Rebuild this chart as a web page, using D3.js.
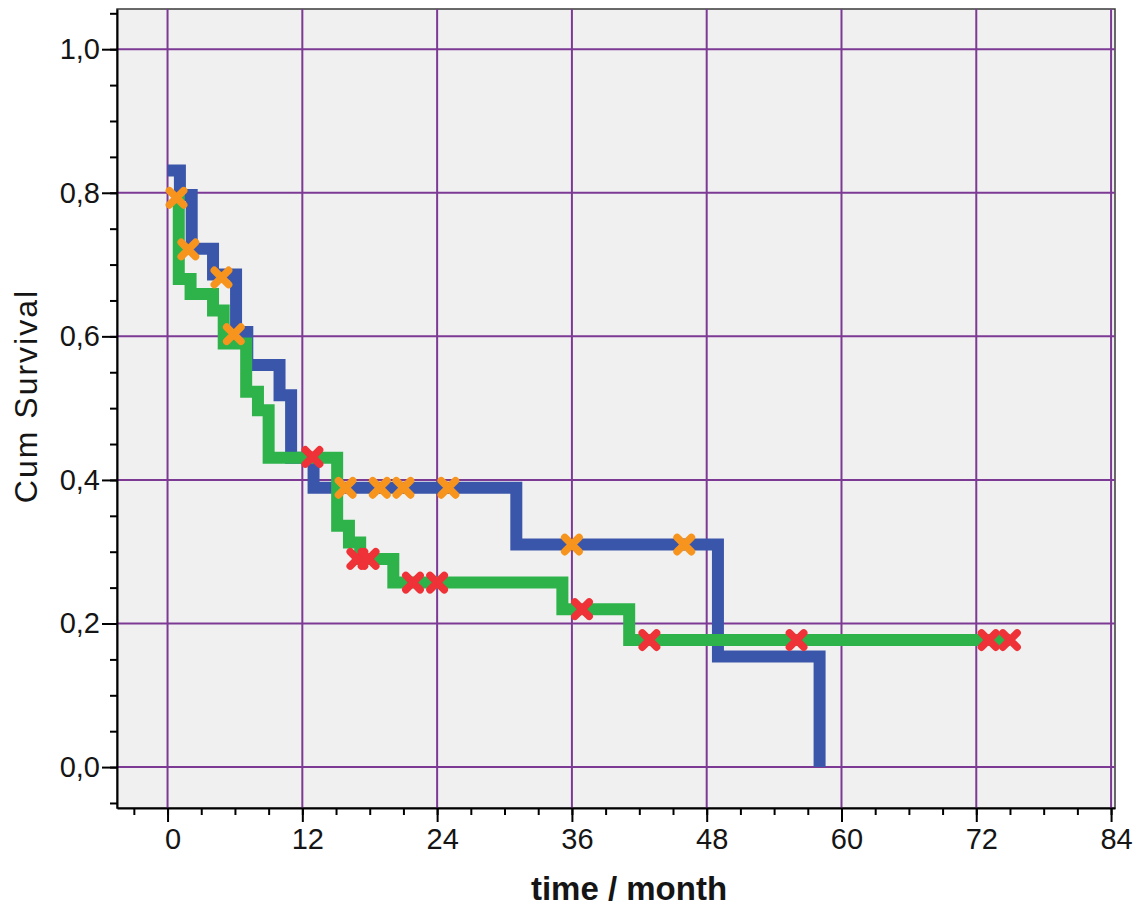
<!DOCTYPE html>
<html>
<head>
<meta charset="utf-8">
<script src="https://cdn.jsdelivr.net/npm/d3@7"></script>
<style>
  body { margin: 0; background: #ffffff; }
  .tick text { font-family: "Liberation Sans", Arial, sans-serif; fill: #151515; }
  .label { font-family: "Liberation Sans", Arial, sans-serif; fill: #151515; }
</style>
</head>
<body>
<div id="kmPlot"></div>
<script>

// Kaplan-Meier steps
// each level holds from its time up to the next time
var blueTimes = [0, 1.1, 2.15, 4.05, 6.1, 7.1, 9.97, 11.0, 13.0, 31.05, 49.0, 58.05];
var blueSurv  = [0.831, 0.797, 0.722, 0.686, 0.606, 0.560, 0.518, 0.431, 0.389, 0.310, 0.154, 0.0];

var greenTimes = [0.4, 1.0, 2.05, 4.05, 5.0, 7.0, 8.05, 9.0, 15.1, 16.15, 17.15, 20.1, 35.15, 41.1, 75.0];
var greenSurv  = [0.79, 0.680, 0.659, 0.636, 0.590, 0.523, 0.497, 0.431, 0.336, 0.313, 0.290, 0.257, 0.220, 0.177, 0.177];

// censored cases
var blueCensTimes = [0.8, 1.85, 4.8, 5.9, 15.85, 18.9, 21.0, 25.0, 36.0, 46.0];
var blueCensSurv  = [0.793, 0.721, 0.682, 0.603, 0.389, 0.389, 0.389, 0.389, 0.310, 0.310];

var greenCensTimes = [12.9, 16.9, 17.9, 21.85, 24.0, 36.9, 42.9, 56.0, 73.1, 75.0];
var greenCensSurv  = [0.432, 0.290, 0.290, 0.257, 0.257, 0.220, 0.177, 0.177, 0.177, 0.177];

// ticks
var xMajor = [0, 12, 24, 36, 48, 60, 72, 84];
var xMinor = d3.range(-3, 85, 3);
var yMajor = [0, 0.2, 0.4, 0.6, 0.8, 1.0];
var yMinor = d3.range(-0.05, 1.06, 0.05);

var width = 1143, height = 906;
var plot = {left: 117, right: 1115, top: 9, bottom: 808};

var svg = d3.select("#kmPlot")
  .append("svg")
    .attr("width", width)
    .attr("height", height);

var x = d3.scaleLinear()
    .domain([-4.5, 84.35])
    .range([plot.left, plot.right]);

var y = d3.scaleLinear()
    .domain([-0.057, 1.056])
    .range([plot.bottom, plot.top]);

// plot background
svg.append("rect")
    .attr("x", plot.left)
    .attr("y", plot.top)
    .attr("width", plot.right - plot.left)
    .attr("height", plot.bottom - plot.top)
    .style("fill", "#f0f0f0")
    .style("stroke", "#3a3a3a")
    .style("stroke-width", 1.5);

// grid
var grid = svg.append("g");
grid.selectAll("line.v")
    .data(xMajor)
    .enter()
    .append("line")
    .attr("x1", function(d){ return x(d); })
    .attr("x2", function(d){ return x(d); })
    .attr("y1", plot.top)
    .attr("y2", plot.bottom)
    .style("stroke", "#7d3a94")
    .style("stroke-width", 2);
grid.selectAll("line.h")
    .data(yMajor)
    .enter()
    .append("line")
    .attr("x1", plot.left)
    .attr("x2", plot.right)
    .attr("y1", function(d){ return y(d); })
    .attr("y2", function(d){ return y(d); })
    .style("stroke", "#7d3a94")
    .style("stroke-width", 2);

// axes
var comma = function(d){ return d3.format(".1f")(d).replace(".", ","); };

svg.append("g")
    .attr("transform", "translate(" + plot.left + ",0)")
    .call(d3.axisLeft(y).tickValues(yMinor).tickSize(7).tickSizeOuter(0).tickFormat(""))
    .style("stroke-width", 2);
svg.append("g")
    .attr("transform", "translate(" + plot.left + ",0)")
    .call(d3.axisLeft(y).tickValues(yMajor).tickSize(15).tickSizeOuter(0).tickPadding(2).tickFormat(comma))
    .style("font-size", "29px")
    .call(function(g){ g.select(".domain").remove(); })
    .selectAll("line").style("stroke-width", 2);

svg.append("g")
    .attr("transform", "translate(0," + plot.bottom + ")")
    .call(d3.axisBottom(x).tickValues(xMinor).tickSize(7).tickSizeOuter(0).tickFormat(""))
    .style("stroke-width", 2);
var xAxis = svg.append("g")
    .attr("transform", "translate(0," + plot.bottom + ")")
    .call(d3.axisBottom(x).tickValues(xMajor).tickSize(14).tickSizeOuter(0).tickPadding(6))
    .style("font-size", "29px")
    .call(function(g){ g.select(".domain").remove(); });
xAxis.selectAll("line").style("stroke-width", 2);
xAxis.selectAll("text").attr("dx", 5);

// survival curves
var line = d3.line()
    .x(function(d){ return x(d[0]); })
    .y(function(d){ return y(d[1]); })
    .curve(d3.curveStepAfter);

var bluePts = blueTimes.map(function(t, i){ return [t, blueSurv[i]]; });
var greenPts = greenTimes.map(function(t, i){ return [t, greenSurv[i]]; });

svg.append("path")
    .datum(bluePts)
    .attr("d", line)
    .style("fill", "none")
    .style("stroke", "#3a56aa")
    .style("stroke-width", 12);

svg.append("path")
    .datum(greenPts)
    .attr("d", line)
    .style("fill", "none")
    .style("stroke", "#2db34a")
    .style("stroke-width", 12);

// censor marks
var cross = d3.symbol().type(d3.symbolTimes).size(135);

svg.append("g")
    .selectAll("path")
    .data(blueCensTimes)
    .enter()
    .append("path")
    .attr("d", cross)
    .attr("transform", function(d, i){ return "translate(" + x(d) + "," + y(blueCensSurv[i]) + ")"; })
    .style("fill", "none")
    .style("stroke", "#f7941e")
    .style("stroke-width", 7.5)
    .style("stroke-linecap", "round");

svg.append("g")
    .selectAll("path")
    .data(greenCensTimes)
    .enter()
    .append("path")
    .attr("d", cross)
    .attr("transform", function(d, i){ return "translate(" + x(d) + "," + y(greenCensSurv[i]) + ")"; })
    .style("fill", "none")
    .style("stroke", "#ee3237")
    .style("stroke-width", 7.5)
    .style("stroke-linecap", "round");

// labels
var labels = svg.append("g");

labels.append("text")
    .text("time / month")
    .classed("label", true)
    .attr("text-anchor", "middle")
    .attr("x", 629)
    .attr("y", 900)
    .style("font-size", "33px")
    .style("font-weight", "bold");

labels.append("g")
    .attr("transform", "translate(37,396)")
    .append("text")
    .text("Cum Survival")
    .classed("label", true)
    .attr("text-anchor", "middle")
    .attr("transform", "rotate(-90)")
    .style("font-size", "32px")
    .style("letter-spacing", "2px");

</script>
</body>
</html>
